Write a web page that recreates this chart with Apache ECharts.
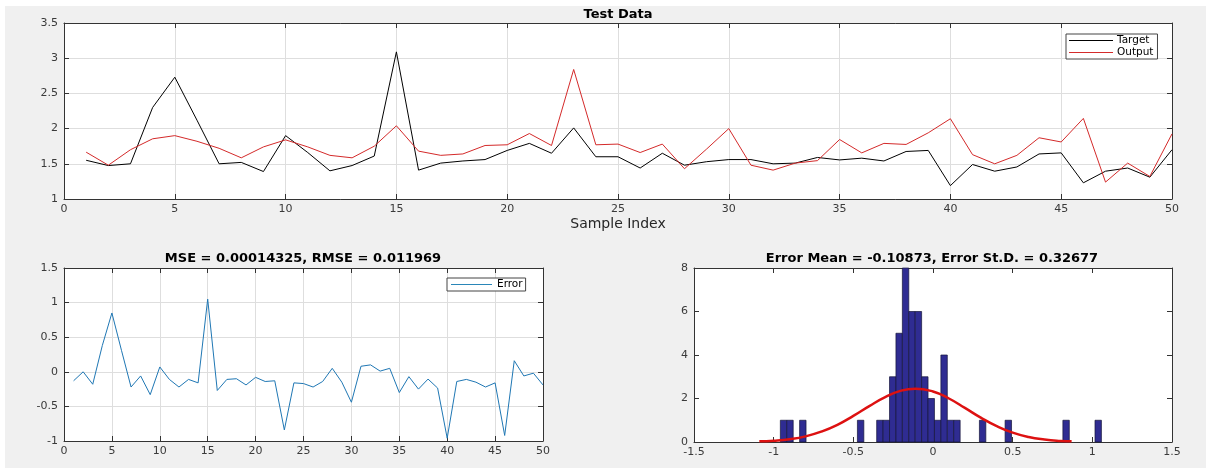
<!DOCTYPE html>
<html>
<head>
<meta charset="utf-8">
<script src="https://cdn.jsdelivr.net/npm/echarts@6/dist/echarts.min.js"></script>
<style>
  html, body { margin: 0; padding: 0; background: #ffffff; }
  #bg { position: absolute; left: 5px; top: 6px; width: 1201px; height: 462px; background: #f0f0f0; }
  #chart { position: absolute; left: 0; top: 0; width: 1206px; height: 468px; }
</style>
</head>
<body>
<div id="bg"></div>
<div id="chart"></div>
<script>
// ---------- data ----------
const sampleIndex = [1,2,3,4,5,6,7,8,9,10,11,12,13,14,15,16,17,18,19,20,21,22,23,24,25,
  26,27,28,29,30,31,32,33,34,35,36,37,38,39,40,41,42,43,44,45,46,47,48,49,50];

const targetValues = [1.55,1.475,1.50,2.30,2.73,2.12,1.50,1.52,1.39,1.90,
  1.66,1.40,1.475,1.61,3.09,1.41,1.51,1.54,1.56,1.69,
  1.79,1.65,2.01,1.60,1.60,1.44,1.65,1.48,1.53,1.56,
  1.56,1.50,1.51,1.59,1.555,1.58,1.54,1.675,1.69,1.19,
  1.49,1.395,1.455,1.64,1.655,1.23,1.395,1.44,1.31,1.70];

const outputValues = [1.665,1.48,1.70,1.855,1.90,1.82,1.72,1.585,1.74,1.84,
  1.74,1.62,1.585,1.75,2.04,1.68,1.62,1.64,1.76,1.77,
  1.93,1.76,2.84,1.77,1.78,1.66,1.78,1.43,1.71,2.00,
  1.48,1.41,1.51,1.545,1.845,1.655,1.79,1.775,1.94,2.14,
  1.63,1.50,1.62,1.87,1.81,2.145,1.24,1.51,1.32,1.925];

const errorValues = [-0.13,0.00,-0.18,0.38,0.85,0.31,-0.22,-0.06,-0.33,0.07,
  -0.11,-0.22,-0.11,-0.16,1.05,-0.27,-0.11,-0.10,-0.19,-0.08,
  -0.14,-0.13,-0.84,-0.16,-0.17,-0.22,-0.14,0.05,-0.15,-0.44,
  0.08,0.10,0.01,0.05,-0.30,-0.07,-0.25,-0.105,-0.235,-0.96,
  -0.14,-0.11,-0.15,-0.22,-0.16,-0.92,0.16,-0.06,-0.02,-0.19];

// histogram: 50 bins starting at histStart, width histBinWidth
const histStart = -0.958;
const histBinWidth = 0.0403;
const histCounts = [1,1,0,1,0,0,0,0,0,0,
  0,0,1,0,0,1,1,3,5,8,
  6,6,3,2,1,4,1,1,0,0,
  0,1,0,0,0,1,0,0,0,0,
  0,0,0,0,1,0,0,0,0,1];

// fitted normal curve
const curveX = [-1.09,-1.0,-0.9,-0.8,-0.7,-0.6,-0.5,-0.4,-0.3,-0.2,-0.11,0.0,0.1,0.2,0.3,0.4,0.5,0.6,0.7,0.8,0.87];
const curveY = [0.03,0.06,0.13,0.26,0.48,0.79,1.20,1.65,2.06,2.36,2.45,2.32,2.00,1.57,1.12,0.73,0.43,0.23,0.115,0.05,0.03];

const titles = ['Test Data', 'MSE = 0.00014325, RMSE = 0.011969', 'Error Mean = -0.10873, Error St.D. = 0.32677'];
const seriesNames = ['Target', 'Output', 'Error'];
const xAxisName = 'Sample Index';

// ---------- build ----------
const FONT = 'DejaVu Sans';
const AX = '#333333';
const LBL = '#3a3a3a';
const GRIDC = '#dedede';

const pairs = (xs, ys) => xs.map((x, i) => [x, ys[i]]);
const histData = [];
histCounts.forEach((c, k) => {
  if (c > 0) histData.push([histStart + k * histBinWidth, histStart + (k + 1) * histBinWidth, c]);
});

function mainX(gi, min, max, interval, grid, extra) {
  return Object.assign({
    type: 'value', gridIndex: gi, position: 'bottom', min, max, interval,
    axisLine: { show: true, onZero: false, lineStyle: { color: AX, width: 1 } },
    axisTick: { show: true, inside: true, length: 5, lineStyle: { color: AX } },
    axisLabel: { show: true, margin: 5, color: LBL, fontFamily: FONT, fontSize: 11 },
    splitLine: { show: grid, lineStyle: { color: GRIDC, width: 1 } }
  }, extra || {});
}
function sideX(gi, min, max, interval) {
  return {
    type: 'value', gridIndex: gi, position: 'top', min, max, interval,
    axisLine: { show: true, onZero: false, lineStyle: { color: AX, width: 1 } },
    axisTick: { show: true, inside: true, length: 5, lineStyle: { color: AX } },
    axisLabel: { show: false }, splitLine: { show: false }
  };
}
function mainY(gi, min, max, interval, grid) {
  return {
    type: 'value', gridIndex: gi, position: 'left', min, max, interval,
    axisLine: { show: true, onZero: false, lineStyle: { color: AX, width: 1 } },
    axisTick: { show: true, inside: true, length: 5, lineStyle: { color: AX } },
    axisLabel: { show: true, margin: 6, color: LBL, fontFamily: FONT, fontSize: 11 },
    splitLine: { show: grid, lineStyle: { color: GRIDC, width: 1 } }
  };
}
function sideY(gi, min, max, interval) {
  return {
    type: 'value', gridIndex: gi, position: 'right', min, max, interval,
    axisLine: { show: true, onZero: false, lineStyle: { color: AX, width: 1 } },
    axisTick: { show: true, inside: true, length: 5, lineStyle: { color: AX } },
    axisLabel: { show: false }, splitLine: { show: false }
  };
}

const titleStyle = { fontFamily: FONT, fontSize: 13, fontWeight: 'bold', color: '#000' };

const option = {
  animation: false,
  backgroundColor: 'transparent',
  title: [
    { text: titles[0], left: 618, top: 8, textAlign: 'center', padding: 0, textStyle: titleStyle },
    { text: titles[1], left: 303, top: 252, textAlign: 'center', padding: 0, textStyle: titleStyle },
    { text: titles[2], left: 932, top: 252, textAlign: 'center', padding: 0, textStyle: titleStyle }
  ],
  grid: [
    { left: 64, top: 23, width: 1108, height: 176, show: true, backgroundColor: '#ffffff', borderWidth: 0 },
    { left: 64, top: 268, width: 479, height: 173, show: true, backgroundColor: '#ffffff', borderWidth: 0 },
    { left: 694, top: 268, width: 478, height: 174, show: true, backgroundColor: '#ffffff', borderWidth: 0 }
  ],
  xAxis: [
    mainX(0, 0, 50, 5, true, {
      name: xAxisName, nameLocation: 'middle', nameGap: 18,
      nameTextStyle: { fontFamily: FONT, fontSize: 14, color: '#262626' }
    }),
    sideX(0, 0, 50, 5),
    mainX(1, 0, 50, 5, true),
    sideX(1, 0, 50, 5),
    mainX(2, -1.5, 1.5, 0.5, false),
    sideX(2, -1.5, 1.5, 0.5)
  ],
  yAxis: [
    mainY(0, 1, 3.5, 0.5, true),
    sideY(0, 1, 3.5, 0.5),
    mainY(1, -1, 1.5, 0.5, true),
    sideY(1, -1, 1.5, 0.5),
    mainY(2, 0, 8, 2, false),
    sideY(2, 0, 8, 2)
  ],
  legend: [
    {
      data: [seriesNames[0], seriesNames[1]], orient: 'vertical', left: 1066, top: 34,
      padding: [1, 4, 1, 3], itemGap: 1, itemWidth: 44, itemHeight: 1, icon: 'rect',
      backgroundColor: '#ffffff', borderColor: '#444', borderWidth: 1,
      textStyle: { fontFamily: FONT, fontSize: 10.5, color: '#000', padding: [0, 0, 0, -1] }
    },
    {
      data: [seriesNames[2]], orient: 'vertical', left: 447, top: 278,
      padding: [1, 3, 1, 4], itemGap: 1, itemWidth: 41, itemHeight: 1, icon: 'rect',
      backgroundColor: '#ffffff', borderColor: '#444', borderWidth: 1,
      textStyle: { fontFamily: FONT, fontSize: 10.5, color: '#000' }
    }
  ],
  series: [
    {
      name: seriesNames[0], type: 'line', xAxisIndex: 0, yAxisIndex: 0,
      data: pairs(sampleIndex, targetValues), showSymbol: false, symbol: 'none',
      lineStyle: { color: '#000000', width: 1 }, itemStyle: { color: '#000000' }, z: 3
    },
    {
      name: seriesNames[1], type: 'line', xAxisIndex: 0, yAxisIndex: 0,
      data: pairs(sampleIndex, outputValues), showSymbol: false, symbol: 'none',
      lineStyle: { color: '#d42a2a', width: 1 }, itemStyle: { color: '#d42a2a' }, z: 4
    },
    {
      name: seriesNames[2], type: 'line', xAxisIndex: 2, yAxisIndex: 2,
      data: pairs(sampleIndex, errorValues), showSymbol: false, symbol: 'none',
      lineStyle: { color: '#1f77b4', width: 1 }, itemStyle: { color: '#2a86b8' }
    },
    {
      name: 'Histogram', type: 'custom', xAxisIndex: 4, yAxisIndex: 4,
      data: histData, encode: { x: [0, 1], y: 2 },
      renderItem: function (params, api) {
        const p0 = api.coord([api.value(0), api.value(2)]);
        const p1 = api.coord([api.value(1), 0]);
        return {
          type: 'rect',
          shape: { x: p0[0], y: p0[1], width: p1[0] - p0[0], height: p1[1] - p0[1] },
          style: { fill: '#2f2c92', stroke: '#15153a', lineWidth: 0.7 }
        };
      },
      z: 2
    },
    {
      name: 'Fit', type: 'line', xAxisIndex: 4, yAxisIndex: 4,
      data: pairs(curveX, curveY), smooth: true, showSymbol: false, symbol: 'none',
      lineStyle: { color: '#dd1111', width: 2.5 }, z: 5
    }
  ]
};

const chart = echarts.init(document.getElementById('chart'), null, { renderer: 'canvas' });
chart.setOption(option);
</script>
</body>
</html>
